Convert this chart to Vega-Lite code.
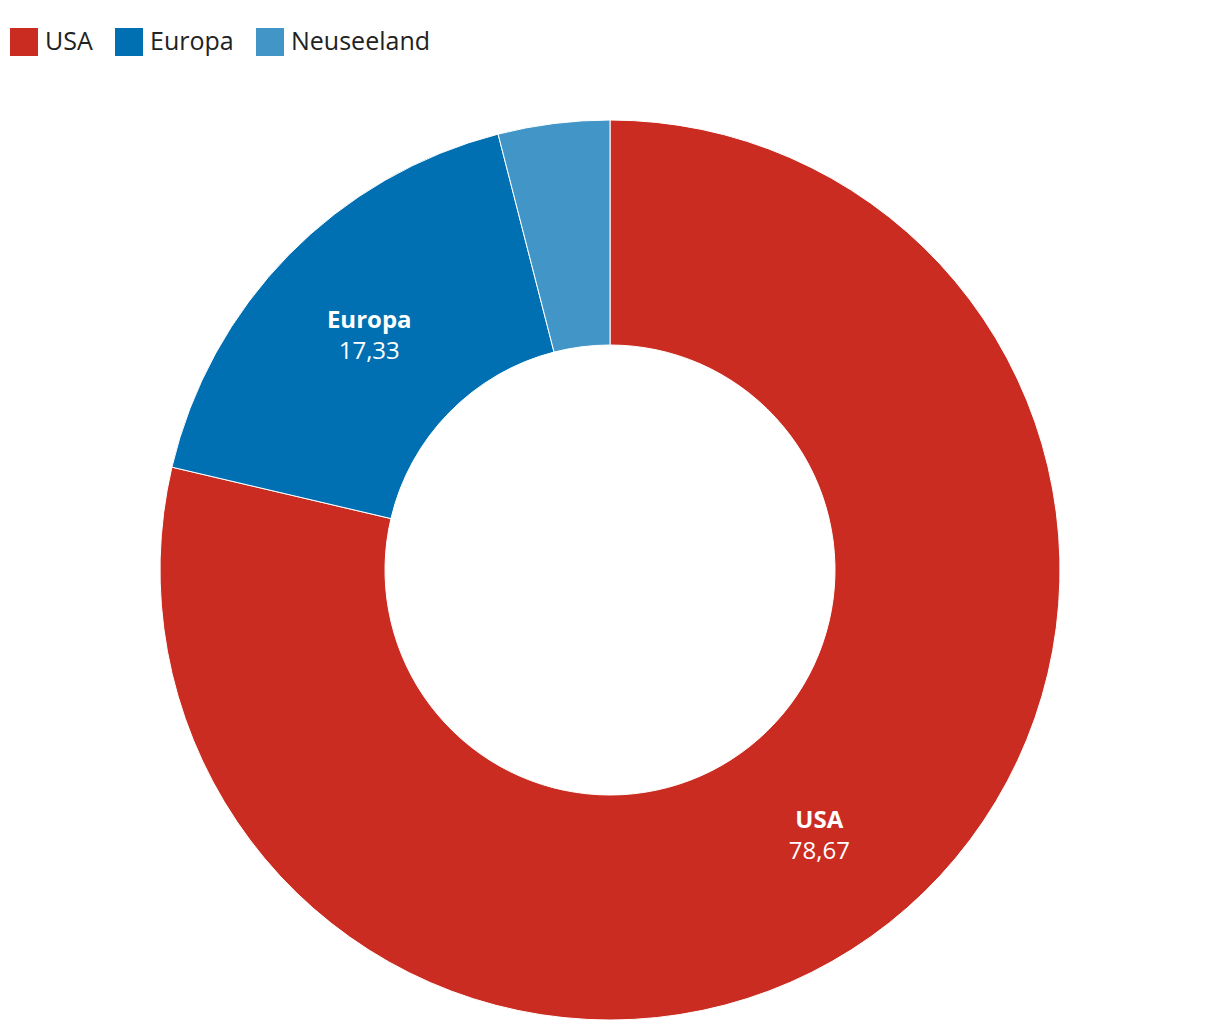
{
  "$schema": "https://vega.github.io/schema/vega-lite/v6.json",
  "width": 1220,
  "height": 900,
  "autosize": {"type": "none"},
  "padding": {"top": 120, "left": 0, "right": 0, "bottom": 10},
  "background": "#ffffff",
  "config": {
    "view": {"stroke": null},
    "font": "Open Sans",
    "locale": {"number": {"decimal": ",", "thousands": ".", "grouping": [3], "currency": ["", " €"]}}
  },
  "data": {
    "values": [
      {"region": "USA", "value": 78.67, "rank": 1},
      {"region": "Europa", "value": 17.33, "rank": 2},
      {"region": "Neuseeland", "value": 4.0, "rank": 3}
    ]
  },
  "encoding": {
    "theta": {"field": "value", "type": "quantitative", "stack": true},
    "order": {"field": "rank", "type": "quantitative"}
  },
  "layer": [
    {
      "mark": {"type": "arc", "outerRadius": 450, "innerRadius": 225, "stroke": "#ffffff", "strokeWidth": 1},
      "encoding": {
        "color": {
          "field": "region",
          "type": "nominal",
          "sort": ["USA", "Europa", "Neuseeland"],
          "scale": {"domain": ["USA", "Europa", "Neuseeland"], "range": ["#cb2c21", "#0070b2", "#4196c7"]},
          "legend": {
            "title": null,
            "orient": "none",
            "legendX": 10,
            "legendY": -92,
            "direction": "horizontal",
            "symbolType": "square",
            "symbolSize": 784,
            "symbolStrokeWidth": 0,
            "symbolOpacity": 1,
            "labelFontSize": 25,
            "labelColor": "#222222",
            "labelFont": "Open Sans",
            "labelOffset": 7,
            "columnPadding": 22
          }
        }
      }
    },
    {
      "mark": {"type": "text", "radius": 337, "dy": -13, "fontSize": 24, "fontWeight": "bold", "color": "#ffffff"},
      "encoding": {
        "text": {"field": "region", "type": "nominal"},
        "opacity": {"condition": {"test": "datum.value < 5", "value": 0}, "value": 1}
      }
    },
    {
      "mark": {"type": "text", "radius": 337, "dy": 18, "fontSize": 24, "color": "#ffffff"},
      "encoding": {
        "text": {"field": "value", "type": "quantitative", "format": ".2f"},
        "opacity": {"condition": {"test": "datum.value < 5", "value": 0}, "value": 1}
      }
    }
  ]
}
